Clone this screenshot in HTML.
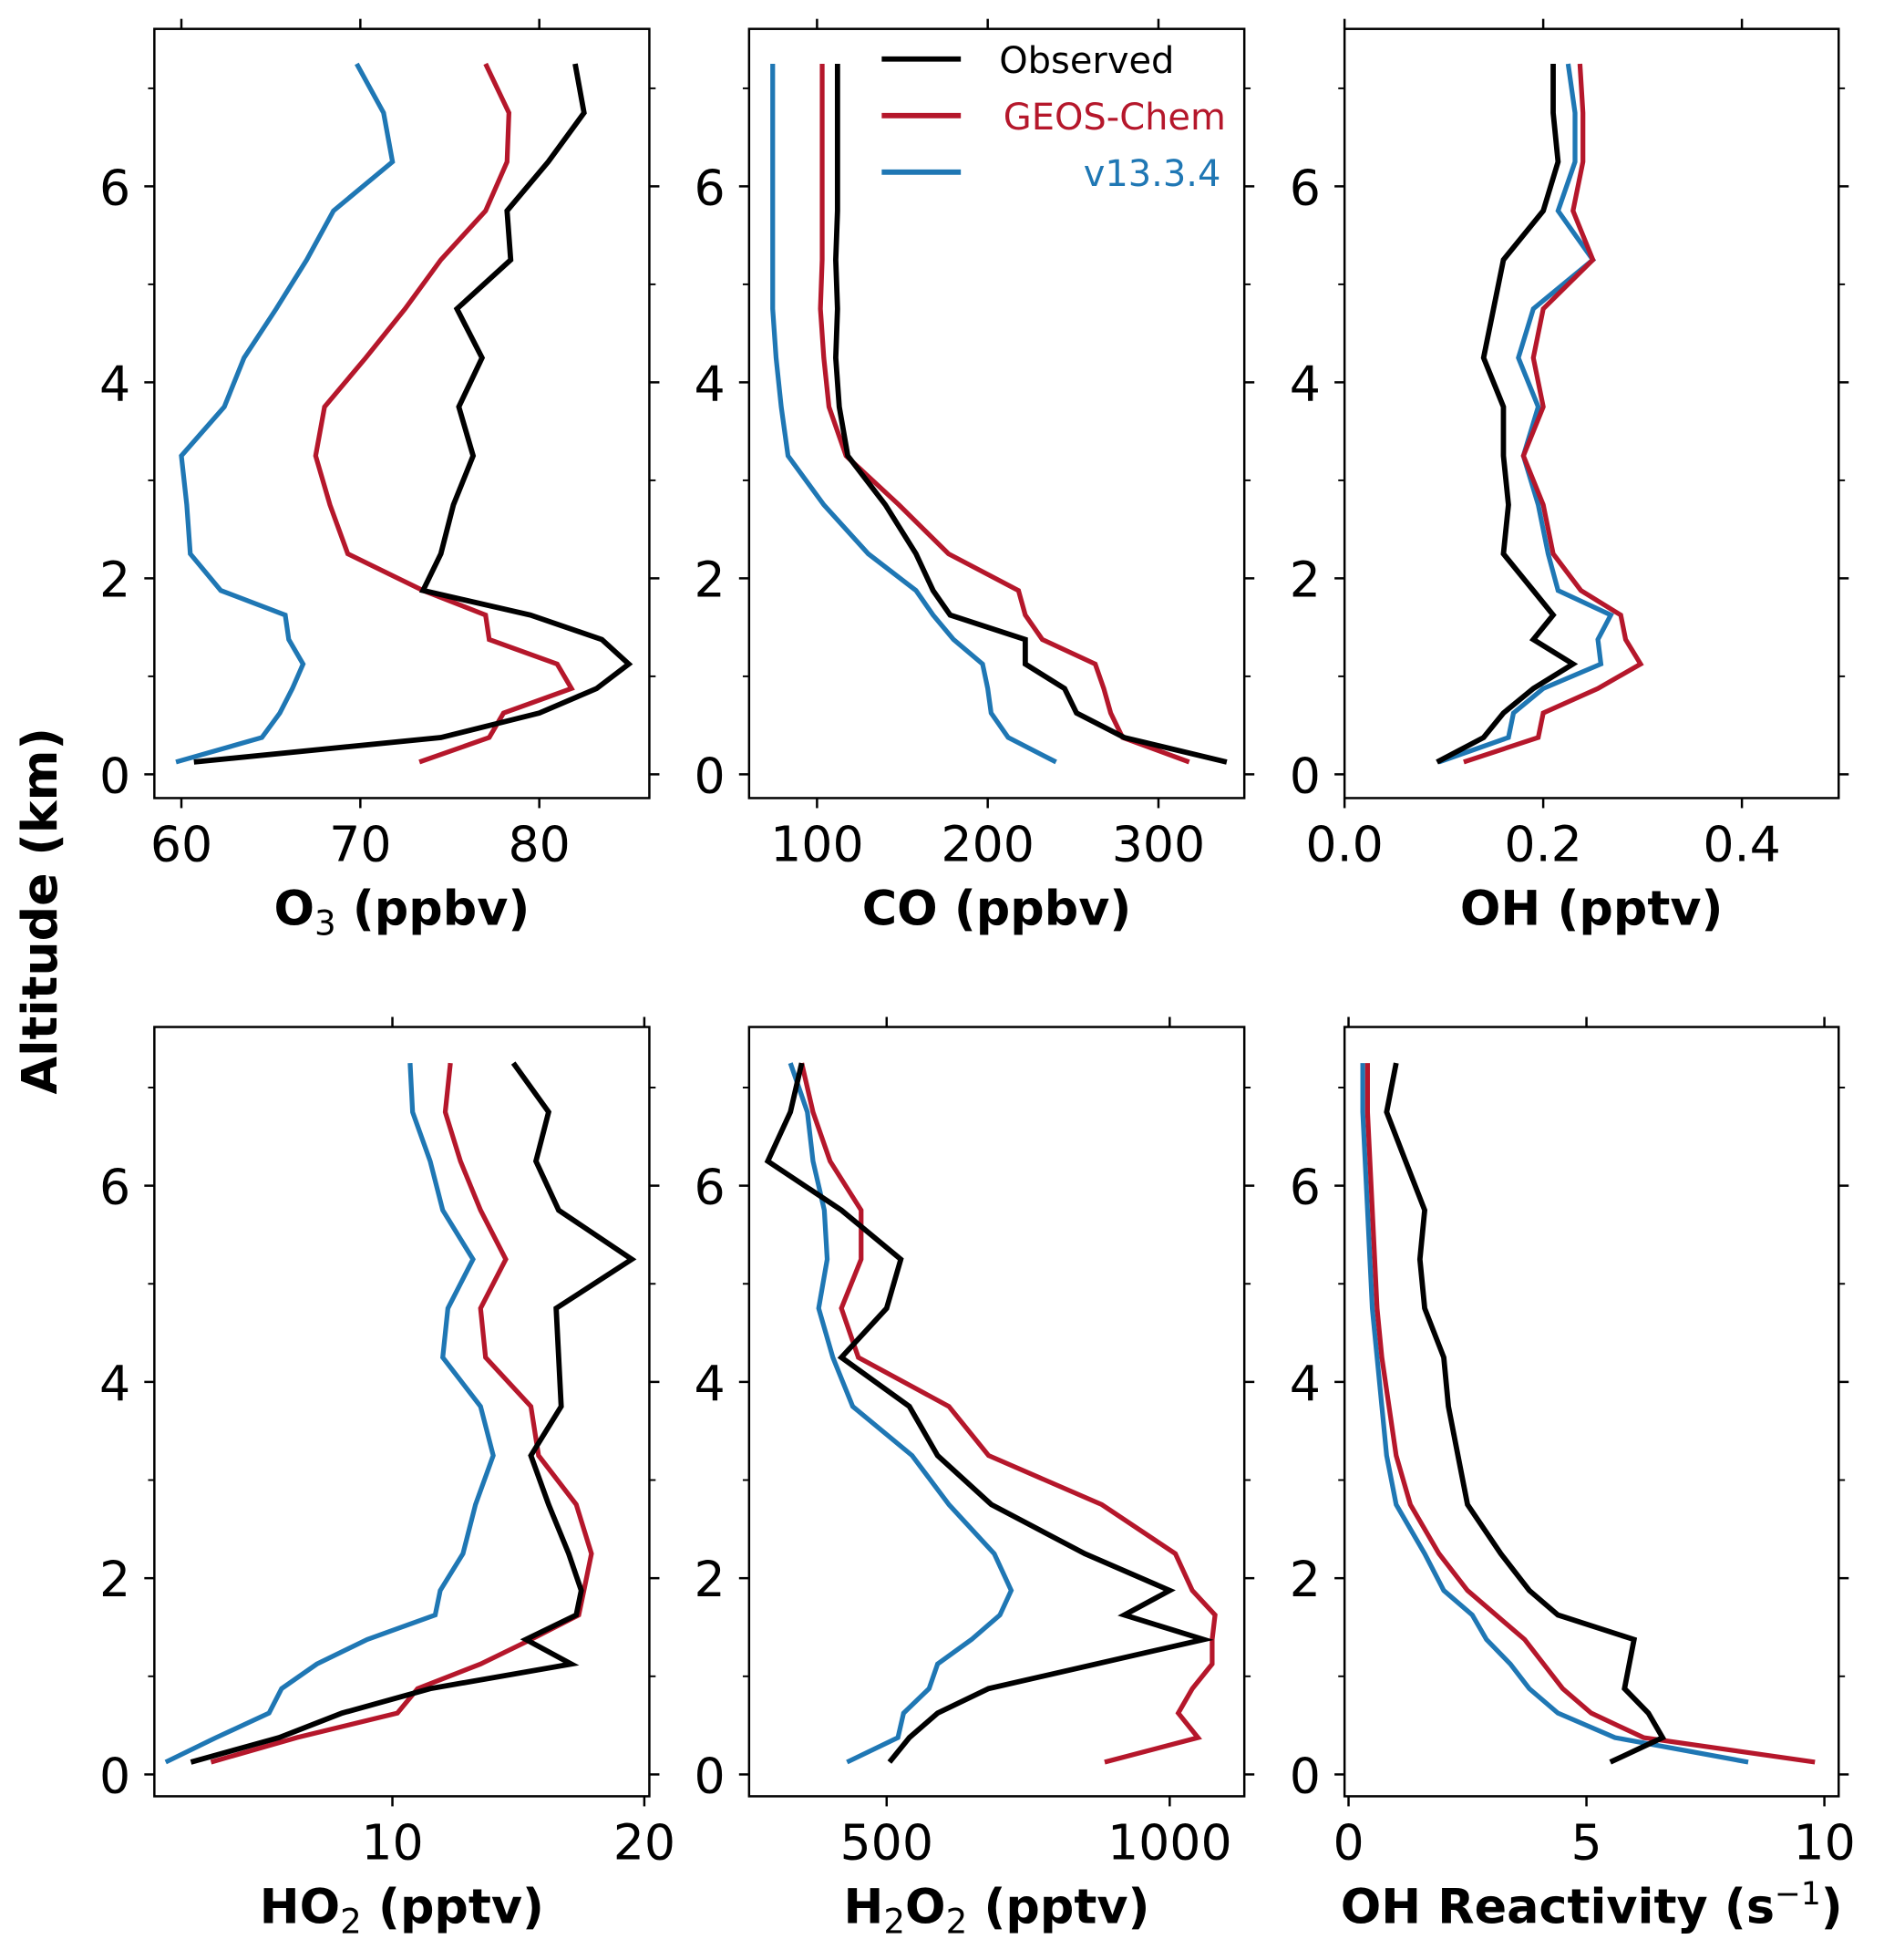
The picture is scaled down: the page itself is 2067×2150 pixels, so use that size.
<!DOCTYPE html>
<html><head><meta charset="utf-8"><style>
html,body{margin:0;padding:0;background:#fff}
svg{display:block;font-family:"DejaVu Sans","Liberation Sans",sans-serif}
</style></head><body>
<svg id="fig" width="2067" height="2150" viewBox="0 0 1500 1560" preserveAspectRatio="none" xmlns="http://www.w3.org/2000/svg">
<text transform="translate(45,725) rotate(-90)" text-anchor="middle" font-size="39" font-weight="bold">Altitude (km)</text>
<g>
<line x1="702" y1="47" x2="765" y2="47" stroke="#000" stroke-width="4.2"/>
<text x="935" y="58" text-anchor="end" font-size="29" fill="#000">Observed</text>
<line x1="702" y1="92" x2="765" y2="92" stroke="#b5172b" stroke-width="4.2"/>
<text x="976" y="103" text-anchor="end" font-size="29" fill="#b5172b">GEOS-Chem</text>
<line x1="702" y1="137" x2="765" y2="137" stroke="#1f77b4" stroke-width="4.2"/>
<text x="972" y="148" text-anchor="end" font-size="29" fill="#1f77b4">v13.3.4</text>
</g>
</svg>
<script>
const altitudes=[0.125,0.375,0.625,0.875,1.125,1.375,1.625,1.875,2.25,2.75,3.25,3.75,4.25,4.75,5.25,5.75,6.25,6.75,7.25];
const o3Obs=[60.7,74.5,80,83.2,85,83.5,79.5,73.5,74.5,75.2,76.3,75.5,76.8,75.4,78.4,78.2,80.5,82.5,82];
const o3Gc=[73.3,77.2,78,81.8,81,77.2,77,73.5,69.3,68.3,67.5,68,70.3,72.5,74.5,77,78.2,78.3,77];
const o3V=[59.7,64.5,65.5,66.2,66.8,66,65.8,62.2,60.5,60.3,60,62.4,63.5,65.3,67,68.5,71.8,71.3,69.8];
const coObs=[340,280,252,245,222,222,178,168,158,140,118,113,111,112,111,112,112,112,112];
const coGc=[318,279,272,268,263,232,222,218,177,148,117,107,104,102,103,103,103,103,103];
const coV=[240,212,202,200,197,180,168,158,130,104,83,79,76,74,74,74,74,74,74];
const ohObs=[0.093,0.14,0.16,0.19,0.23,0.19,0.21,0.19,0.16,0.165,0.16,0.16,0.14,0.15,0.16,0.2,0.215,0.21,0.21];
const ohGc=[0.12,0.195,0.2,0.255,0.298,0.283,0.278,0.238,0.21,0.2,0.18,0.2,0.19,0.2,0.25,0.23,0.24,0.24,0.237];
const ohV=[0.095,0.165,0.17,0.2,0.258,0.255,0.268,0.215,0.205,0.195,0.18,0.195,0.175,0.19,0.25,0.215,0.232,0.232,0.225];
const ho2Obs=[2,5.5,8,11.5,17.1,15.3,17.3,17.5,17,16.2,15.5,16.7,16.6,16.5,19.5,16.6,15.7,16.2,14.8];
const ho2Gc=[2.8,6.2,10.2,11,13.5,15.5,17.4,17.6,17.9,17.3,15.8,15.5,13.7,13.5,14.5,13.5,12.7,12.1,12.3];
const ho2V=[1,3,5.1,5.6,7,9,11.7,11.9,12.8,13.3,14,13.5,12,12.2,13.2,12,11.5,10.8,10.7];
const h2o2Obs=[505,540,590,680,870,1060,920,1000,850,685,590,540,420,500,525,420,290,330,350];
const h2o2Gc=[885,1050,1015,1040,1075,1075,1080,1040,1010,880,680,610,450,420,455,455,400,370,350];
const h2o2V=[430,520,530,575,590,650,700,720,690,610,545,440,405,380,395,390,370,360,330];
const ohrObs=[5.5,6.6,6.3,5.8,5.9,6,4.4,3.8,3.2,2.5,2.3,2.1,2.0,1.6,1.5,1.6,1.2,0.8,1.0];
const ohrGc=[9.8,6.2,5.1,4.5,4.1,3.7,3.1,2.5,1.9,1.3,1.0,0.85,0.7,0.6,0.55,0.5,0.45,0.4,0.4];
const ohrV=[8.4,5.6,4.4,3.8,3.4,2.9,2.6,2.0,1.6,1.0,0.8,0.7,0.6,0.5,0.45,0.4,0.35,0.3,0.3];
const yTicks=[0,2,4,6];
const yMinor=[1,3,5,7];

const NS="http://www.w3.org/2000/svg";
const svg=document.getElementById('fig');
function mk(tag,attrs,parent){const e=document.createElementNS(NS,tag);for(const k in attrs)e.setAttribute(k,attrs[k]);(parent||svg).appendChild(e);return e;}

const C1=[122.9,517],C2=[596.4,990.7],C3=[1070.5,1463.9];
const R1={T:23,B:635.2,y0:616.3,k:78.0},R2={T:817.4,B:1429.7,y0:1412.3,k:78.1};
const panels=[
 {id:'o3',c:C1,r:R1,x0:58.49,x1:86.15,ticks:[60,70,80],fmt:v=>String(v),label:[['O'],['3','sub'],[' (ppbv)']],series:[o3V,o3Gc,o3Obs]},
 {id:'co',c:C2,r:R1,x0:60.2,x1:350.3,ticks:[100,200,300],fmt:v=>String(v),label:[['CO (ppbv)']],series:[coV,coGc,coObs]},
 {id:'oh',c:C3,r:R1,x0:0,x1:0.4974,ticks:[0,0.2,0.4],fmt:v=>v.toFixed(1),label:[['OH (pptv)']],series:[ohV,ohGc,ohObs]},
 {id:'ho2',c:C1,r:R2,x0:0.55,x1:20.2,ticks:[10,20],fmt:v=>String(v),label:[['HO'],['2','sub'],[' (pptv)']],series:[ho2V,ho2Gc,ho2Obs]},
 {id:'h2o2',c:C2,r:R2,x0:257,x1:1131.8,ticks:[500,1000],fmt:v=>String(v),label:[['H'],['2','sub'],['O'],['2','sub'],[' (pptv)']],series:[h2o2V,h2o2Gc,h2o2Obs]},
 {id:'ohr',c:C3,r:R2,x0:-0.084,x1:10.3,ticks:[0,5,10],fmt:v=>String(v),label:[['OH Reactivity (s'],['\u22121','sup'],[')']],series:[ohrV,ohrGc,ohrObs]}
];
const colors=['#1f77b4','#b5172b','#000'];
const widths=[3.8,3.8,4.2];
const names=['v13-3-4-line','geos-chem-line','observed-line'];

panels.forEach(p=>{
  const L=p.c[0],R=p.c[1],T=p.r.T,B=p.r.B;
  const g=mk('g',{});
  
  
  const xs=v=>L+(v-p.x0)/(p.x1-p.x0)*(R-L);
  const ys=a=>p.r.y0-a*p.r.k;
  p.series.forEach((s,i)=>{
    const pts=s.map((v,k)=>xs(v).toFixed(1)+','+ys(altitudes[k]).toFixed(1)).join(' ');
    const pl=mk('polyline',{points:pts,fill:'none',stroke:colors[i],'stroke-width':widths[i],'stroke-linejoin':'miter'},g);
    
    
  });
  const fr=mk('rect',{x:L,y:T,width:R-L,height:B-T,fill:'none',stroke:'#000','stroke-width':1.8},g);
  
  
  p.ticks.forEach(t=>{
    const x=xs(t);
    mk('line',{x1:x,y1:B,x2:x,y2:B+8,stroke:'#000','stroke-width':1.8},g);
    mk('line',{x1:x,y1:T,x2:x,y2:T-8,stroke:'#000','stroke-width':1.8},g);
    const tx=mk('text',{x:x,y:B+50,'text-anchor':'middle','font-size':39},g);
    tx.textContent=p.fmt(t);
    
    
  });
  yTicks.forEach(t=>{
    const y=ys(t);
    mk('line',{x1:L,y1:y,x2:L-8,y2:y,stroke:'#000','stroke-width':1.8},g);
    mk('line',{x1:R,y1:y,x2:R+8,y2:y,stroke:'#000','stroke-width':1.8},g);
    const tx=mk('text',{x:L-19,y:y+14.5,'text-anchor':'end','font-size':39},g);
    tx.textContent=String(t);
    
    
  });
  yMinor.forEach(t=>{
    const y=ys(t);
    mk('line',{x1:L,y1:y,x2:L-5,y2:y,stroke:'#000','stroke-width':1.4},g);
    mk('line',{x1:R,y1:y,x2:R+5,y2:y,stroke:'#000','stroke-width':1.4},g);
  });
  const lab=mk('text',{x:(L+R)/2,y:B+101,'text-anchor':'middle','font-size':38,'font-weight':'bold'},g);
  
  
  p.label.forEach(part=>{
    const ts=mk('tspan',{},lab);
    ts.textContent=part[0];
    if(part[1]==='sub'){ts.setAttribute('font-size','27');ts.setAttribute('font-weight','normal');ts.setAttribute('dy','8');}
    else if(part[1]==='sup'){ts.setAttribute('font-size','25');ts.setAttribute('font-weight','normal');ts.setAttribute('dy','-15');}
    else if(lab.childNodes.length>1){const prev=p.label[lab.childNodes.length-2];if(prev[1]==='sub')ts.setAttribute('dy','-8');if(prev[1]==='sup')ts.setAttribute('dy','15');}
  });
});
</script>
</body></html>
